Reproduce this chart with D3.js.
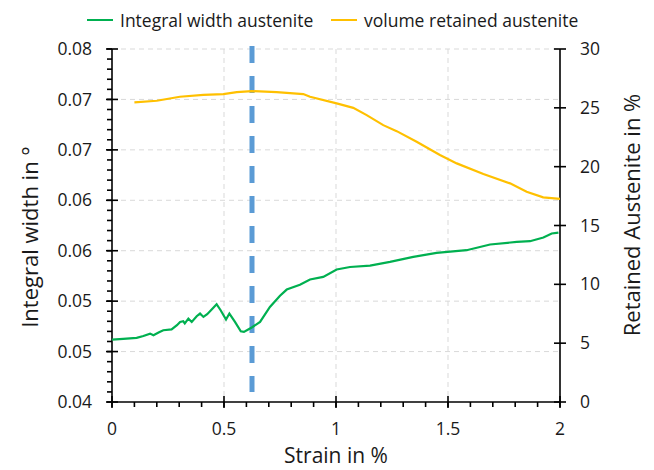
<!DOCTYPE html>
<html>
<head>
<meta charset="utf-8">
<script src="https://cdn.jsdelivr.net/npm/d3@7"></script>
<style>
  body { margin: 0; background: #fff; }
  svg text { font-family: "Open Sans", sans-serif; fill: #1a1a1a; }
</style>
</head>
<body>
<svg id="chart" width="654" height="470"></svg>
<script>
// integral width of austenite peak (left axis)
const widthStrain = [0, 0.05, 0.11, 0.14, 0.17, 0.185, 0.21, 0.229, 0.266, 0.29, 0.304, 0.318, 0.325, 0.341, 0.356, 0.378, 0.393, 0.408, 0.425, 0.445, 0.467, 0.485, 0.509, 0.524, 0.549, 0.575, 0.589, 0.61, 0.624, 0.661, 0.705, 0.75, 0.78, 0.839, 0.884, 0.943, 1.003, 1.0625, 1.152, 1.241, 1.345, 1.449, 1.583, 1.688, 1.807, 1.866, 1.926, 1.963, 1.993]
const widthValues = [0.04707, 0.04715, 0.04726, 0.04748, 0.04775, 0.04756, 0.0479, 0.04813, 0.04822, 0.0487, 0.04907, 0.04915, 0.0489, 0.04945, 0.04907, 0.04972, 0.05002, 0.04964, 0.04995, 0.05048, 0.05108, 0.0504, 0.04934, 0.05002, 0.04907, 0.04802, 0.04794, 0.04825, 0.04844, 0.04907, 0.05077, 0.05205, 0.05274, 0.05328, 0.05388, 0.05417, 0.05501, 0.0553, 0.05546, 0.05587, 0.05644, 0.05689, 0.0572, 0.05785, 0.05814, 0.05822, 0.05864, 0.05909, 0.0592]

// retained austenite volume (right axis)
const raStrain = [0.1, 0.2, 0.303, 0.408, 0.497, 0.557, 0.624, 0.735, 0.854, 0.884, 1.003, 1.077, 1.137, 1.211, 1.271, 1.36, 1.464, 1.539, 1.658, 1.777, 1.851, 1.925, 2.0]
const raValues = [25.46, 25.6, 25.94, 26.1, 26.17, 26.34, 26.42, 26.34, 26.17, 25.94, 25.38, 25.0, 24.38, 23.53, 23.02, 22.12, 20.99, 20.28, 19.37, 18.58, 17.87, 17.39, 17.27]

const markerStrain = 0.625

const xTicks = [0, 0.5, 1, 1.5, 2]
const xTickLabels = ["0", "0.5", "1", "1.5", "2"]
const leftTickLabels = ["0.04", "0.05", "0.05", "0.06", "0.06", "0.07", "0.07", "0.08"]
const rightTicks = [0, 5, 10, 15, 20, 25, 30]

const seriesNames = ["Integral width austenite", "volume retained austenite"]
const green = "#00b050", orange = "#ffc000", blue = "#5b9bd5"

const svg = d3.select("#chart")
const x = d3.scaleLinear([0, 2], [112, 560])
const yL = d3.scaleLinear([0.04, 0.08], [402, 49])
const yR = d3.scaleLinear([0, 30], [402, 49])

// Excel split the left axis into 7 steps
const leftTicks = d3.range(8).map(i => 0.04 + i * 0.04 / 7)
const leftMinor = d3.range(36).map(i => 0.04 + i * 0.04 / 35)
const xMinor = d3.range(21).map(i => i * 0.1)

const grid = svg.append("g")
  .attr("stroke", "#d9d9d9")
  .attr("stroke-width", 1)
  .attr("stroke-dasharray", "5,4")
grid.selectAll("line.h")
  .data(leftTicks.slice(1))
  .join("line")
    .attr("class", "h")
    .attr("x1", x(0)).attr("x2", x(2))
    .attr("y1", d => yL(d)).attr("y2", d => yL(d))
grid.selectAll("line.v")
  .data(xTicks.slice(1, -1))
  .join("line")
    .attr("class", "v")
    .attr("x1", d => x(d)).attr("x2", d => x(d))
    .attr("y1", yL(0.08)).attr("y2", yL(0.04))

// axes: lines and ticks drawn by hand to get crossing ticks
const axes = svg.append("g").attr("stroke", "#000").attr("stroke-width", 1.6)
axes.append("line").attr("x1", x(0)).attr("x2", x(0)).attr("y1", yL(0.08)).attr("y2", yL(0.04))
axes.append("line").attr("x1", x(2)).attr("x2", x(2)).attr("y1", yR(30)).attr("y2", yR(0))
axes.append("line").attr("x1", x(0)).attr("x2", x(2)).attr("y1", yL(0.04)).attr("y2", yL(0.04))

axes.selectAll("line.lminor").data(leftMinor).join("line")
  .attr("class", "lminor")
  .attr("x1", x(0) - 5).attr("x2", x(0))
  .attr("y1", d => yL(d)).attr("y2", d => yL(d))
axes.selectAll("line.lmajor").data(leftTicks).join("line")
  .attr("class", "lmajor")
  .attr("x1", x(0) - 6).attr("x2", x(0) + 6)
  .attr("y1", d => yL(d)).attr("y2", d => yL(d))
axes.selectAll("line.rmajor").data(rightTicks).join("line")
  .attr("class", "rmajor")
  .attr("x1", x(2) - 6).attr("x2", x(2) + 6)
  .attr("y1", d => yR(d)).attr("y2", d => yR(d))
axes.selectAll("line.xminor").data(xMinor).join("line")
  .attr("class", "xminor")
  .attr("x1", d => x(d)).attr("x2", d => x(d))
  .attr("y1", yL(0.04)).attr("y2", yL(0.04) + 5)
axes.selectAll("line.xmajor").data(xTicks).join("line")
  .attr("class", "xmajor")
  .attr("x1", d => x(d)).attr("x2", d => x(d))
  .attr("y1", yL(0.04) - 6).attr("y2", yL(0.04) + 6)

const tickFont = 17.5
svg.append("g").selectAll("text").data(leftTicks).join("text")
  .attr("x", x(0) - 20)
  .attr("y", d => yL(d))
  .attr("dy", "0.35em")
  .attr("text-anchor", "end")
  .attr("font-size", tickFont)
  .text((d, i) => leftTickLabels[i])
svg.append("g").selectAll("text").data(rightTicks).join("text")
  .attr("x", x(2) + 20)
  .attr("y", d => yR(d))
  .attr("dy", "0.35em")
  .attr("font-size", tickFont)
  .text(d => d)
svg.append("g").selectAll("text").data(xTicks).join("text")
  .attr("x", d => x(d))
  .attr("y", 435)
  .attr("text-anchor", "middle")
  .attr("font-size", tickFont)
  .text((d, i) => xTickLabels[i])

// axis titles
svg.append("text")
  .attr("transform", `translate(38,237) rotate(-90)`)
  .attr("text-anchor", "middle")
  .attr("font-size", 22)
  .text("Integral width in °")
svg.append("text")
  .attr("transform", `translate(640,215) rotate(-90)`)
  .attr("text-anchor", "middle")
  .attr("font-size", 22)
  .text("Retained Austenite in %")
svg.append("text")
  .attr("x", (x(0) + x(2)) / 2)
  .attr("y", 463)
  .attr("text-anchor", "middle")
  .attr("font-size", 21)
  .text("Strain in %")

// marker line
svg.append("line")
  .attr("x1", x(markerStrain)).attr("x2", x(markerStrain))
  .attr("y1", 46).attr("y2", 392)
  .attr("stroke", blue)
  .attr("stroke-width", 5)
  .attr("stroke-dasharray", "17,13")

const widthData = widthStrain.map((s, i) => [s, widthValues[i]])
const raData = raStrain.map((s, i) => [s, raValues[i]])

svg.append("path")
  .datum(raData)
  .attr("fill", "none")
  .attr("stroke", orange)
  .attr("stroke-width", 2.2)
  .attr("d", d3.line(d => x(d[0]), d => yR(d[1])))

svg.append("path")
  .datum(widthData)
  .attr("fill", "none")
  .attr("stroke", green)
  .attr("stroke-width", 2.2)
  .attr("d", d3.line(d => x(d[0]), d => yL(d[1])))

// legend
const legendPos = [87, 331]
const legend = svg.append("g").selectAll("g")
  .data(seriesNames)
  .join("g")
    .attr("transform", (d, i) => `translate(${legendPos[i]},20)`)
legend.append("line")
  .attr("x1", 0).attr("x2", 26)
  .attr("stroke", (d, i) => i ? orange : green)
  .attr("stroke-width", 2)
legend.append("text")
  .attr("x", 33)
  .attr("y", 6.5)
  .attr("font-size", tickFont)
  .text(d => d)
</script>
</body>
</html>
